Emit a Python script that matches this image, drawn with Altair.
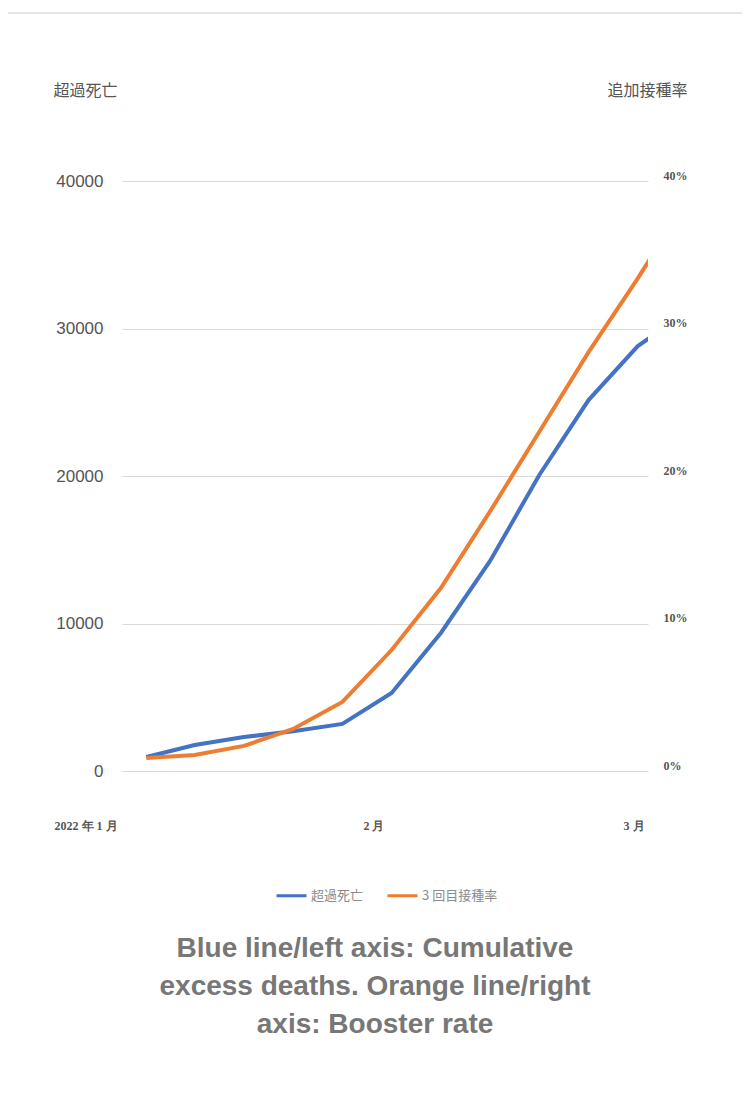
import altair as alt
import pandas as pd

# ---- data ----
# x position in days since 2022-01-01
x_days = [6.5, 11.7, 17.0, 22.3, 27.6, 32.9, 38.2, 43.5, 48.8, 54.1, 59.4, 60.8]
excess_deaths = [950, 1760, 2300, 2700, 3190, 5290, 9360, 14240, 20070, 25150, 28810, 29420]
booster_rate = [0.0088, 0.0108, 0.017, 0.0285, 0.0468, 0.082, 0.124, 0.176, 0.230, 0.284, 0.334, 0.348]

series_names = ["超過死亡", "3 回目接種率"]
series_colors = ["#4472C4", "#ED7D31"]

month_labels = ["2022 年 1 月", "2 月", "3 月"]
month_days = [0, 31, 59]

left_ticks = [0, 10000, 20000, 30000, 40000]
right_ticks = [0, 0.1, 0.2, 0.3, 0.4]

left_title = "超過死亡"
right_title = "追加接種率"

caption_lines = [
    "Blue line/left axis: Cumulative",
    "excess deaths. Orange line/right",
    "axis: Booster rate",
]

# ---- frames ----
blue_df = pd.DataFrame({"day": x_days, "value": excess_deaths, "series": series_names[0]})
orange_df = pd.DataFrame({"day": x_days, "value": booster_rate, "series": series_names[1]})
month_df = pd.DataFrame({"day": month_days, "label": month_labels})
caption_df = pd.DataFrame({"text": ["\n".join(caption_lines)]})

xscale = alt.Scale(domain=[3.875, 60.5], nice=False, zero=False)

legend = alt.Legend(
    orient="none", legendX=153, legendY=698, direction="horizontal", title=None,
    symbolType="stroke", symbolSize=900, symbolStrokeWidth=3,
    labelFont="Noto Sans CJK JP", labelFontSize=13, labelColor="#8c8c8c",
    labelOffset=3, columnPadding=17,
)
color = alt.Color("series:N", scale=alt.Scale(domain=series_names, range=series_colors), legend=legend)

blue = alt.Chart(blue_df).mark_line(strokeWidth=4, clip=True).encode(
    x=alt.X("day:Q", scale=xscale, axis=None),
    y=alt.Y("value:Q", scale=alt.Scale(domain=[0, 40000], nice=False),
            axis=alt.Axis(orient="left", values=left_ticks, format="d", grid=True,
                          gridColor="#d9d9d9", gridWidth=1, domain=False, ticks=False,
                          labelPadding=19, labelFontSize=17, labelColor="#555555",
                          labelFont="Liberation Sans",
                          title=left_title, titleAngle=0, titleX=-69, titleY=-91,
                          titleAlign="left", titleBaseline="middle",
                          titleFont="Noto Sans CJK JP", titleFontSize=16,
                          titleFontWeight="normal", titleColor="#555555")),
    color=color,
)

orange = alt.Chart(orange_df).mark_line(strokeWidth=4, clip=True).encode(
    x=alt.X("day:Q", scale=xscale, axis=None),
    y=alt.Y("value:Q", scale=alt.Scale(domain=[0, 0.4], nice=False),
            axis=alt.Axis(orient="right", values=right_ticks, format=".0%", grid=False,
                          domain=False, ticks=False, labelPadding=15,
                          labelFont="Liberation Serif", labelFontSize=12,
                          labelFontWeight="bold", labelColor="#555555", labelOffset=-6,
                          title=right_title, titleAngle=0, titleX=39, titleY=-91,
                          titleAlign="right", titleBaseline="middle",
                          titleFont="Noto Sans CJK JP", titleFontSize=16,
                          titleFontWeight="normal", titleColor="#555555")),
    color=color,
)

months = alt.Chart(month_df).mark_text(
    font="Liberation Serif", fontSize=12, fontWeight="bold", color="#555555", baseline="middle"
).encode(
    x=alt.X("day:Q", scale=xscale, axis=None),
    y=alt.value(645),
    text="label:N",
)

caption = alt.Chart(caption_df).mark_text(
    font="Liberation Sans", fontSize=28, fontWeight="bold", color="#777777",
    lineBreak="\n", lineHeight=38, baseline="top", align="center"
).encode(
    x=alt.value(253),
    y=alt.value(754),
    text="text:N",
)

top_rule = alt.Chart(caption_df).mark_rule(color="#e6e6e6", strokeWidth=2).encode(
    x=alt.value(-114), x2=alt.value(620), y=alt.value(-168)
)

chart = alt.layer(blue, orange, months, caption, top_rule).resolve_scale(
    y="independent"
).properties(
    width=526, height=590,
    autosize=alt.AutoSizeParams(type="none"),
    padding={"left": 114, "top": 173, "right": 94, "bottom": 300},
).configure_view(stroke=None)

chart.save("out.html", embed_options={"renderer": "svg", "actions": False})
